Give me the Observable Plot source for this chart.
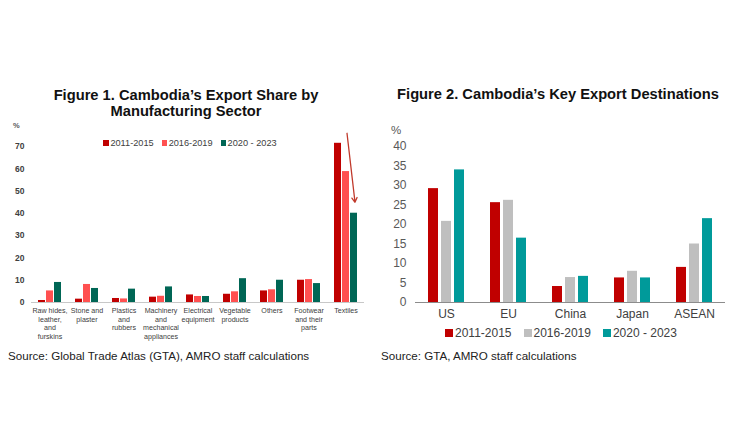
<!DOCTYPE html>
<html>
<head>
<meta charset="utf-8">
<script src="https://cdn.jsdelivr.net/npm/d3@7"></script>
<script src="https://cdn.jsdelivr.net/npm/@observablehq/plot@0.6"></script>
<style>
  html, body { margin: 0; padding: 0; background: #fff; }
  #page { position: relative; width: 750px; height: 440px; overflow: hidden; font-family: "Liberation Sans", Arial, sans-serif; background: #fff; }
  .abs { position: absolute; }
  .title { font-weight: bold; font-size: 14.7px; color: #111; text-align: center; line-height: 16px; white-space: nowrap; }
  .legend { display: flex; align-items: center; white-space: nowrap; color: #404040; }
  .legend .item { display: flex; align-items: center; }
  .legend .sw { display: inline-block; }
  .source { font-size: 11.6px; color: #222; white-space: nowrap; }
  .unit { color: #595959; }
</style>
</head>
<body>
<div id="page">
  <div class="abs title" style="left:0; width:372px; top:87px;">Figure 1. Cambodia’s Export Share by<br>Manufacturing Sector</div>
  <div class="abs title" style="left:375px; width:366px; top:86px;">Figure 2. Cambodia’s Key Export Destinations</div>
  <div class="abs unit" style="left:13px; top:121px; font-size:7.5px; font-weight:bold;">%</div>
  <div class="abs unit" style="left:391px; top:124px; font-size:11.5px;">%</div>
  <div id="chart1" class="abs" style="left:0; top:120px;"></div>
  <div id="chart2" class="abs" style="left:375px; top:120px;"></div>
  <div id="legend1" class="abs legend" style="left:0; width:380px; justify-content:center; top:138px; font-size:9.2px;"></div>
  <div id="legend2" class="abs legend" style="left:375px; width:372px; justify-content:center; top:326px; font-size:12px;"></div>
  <div class="abs source" style="left:8px; top:349px;">Source: Global Trade Atlas (GTA), AMRO staff calculations</div>
  <div class="abs source" style="left:381px; top:349px;">Source: GTA, AMRO staff calculations</div>
</div>
<script>
// ---------- Data ----------
const periods = ["2011-2015", "2016-2019", "2020 - 2023"];

// Figure 1: export share by manufacturing sector (%)
const sectors = [
  "Raw hides,\nleather,\nand\nfurskins",
  "Stone and\nplaster",
  "Plastics\nand\nrubbers",
  "Machinery\nand\nmechanical\nappliances",
  "Electrical\nequipment",
  "Vegetable\nproducts",
  "Others",
  "Footwear\nand their\nparts",
  "Textiles"
];
const sector2011 = [0.9, 1.5, 1.8, 2.4, 3.4, 3.7, 5.2, 10.0, 71.5];
const sector2016 = [5.2, 8.1, 1.6, 2.8, 2.7, 4.8, 5.7, 10.3, 58.8];
const sector2020 = [9.0, 6.3, 6.0, 7.0, 2.7, 10.7, 10.0, 8.5, 40.1];
const ticks1 = [0, 10, 20, 30, 40, 50, 60, 70];
const colors1 = ["#C00000", "#FF5050", "#006655"];

// Annotation arrow on Textiles (from ~76% down to ~45%)
const arrowNote = [{sector: "Textiles", from: "2016-2019", to: "2020 - 2023", y1: 76, y2: 45}];

// Figure 2: key export destinations (%)
const dests = ["US", "EU", "China", "Japan", "ASEAN"];
const dest2011 = [29.2, 25.6, 4.1, 6.3, 9.0];
const dest2016 = [20.8, 26.2, 6.4, 8.0, 15.0];
const dest2020 = [34.0, 16.5, 6.7, 6.3, 21.5];
const ticks2 = [0, 5, 10, 15, 20, 25, 30, 35, 40];
const colors2 = ["#C00000", "#BFBFBF", "#009A9A"];

// ---------- Tables ----------
const seriesSector = [sector2011, sector2016, sector2020];
const rows1 = sectors.flatMap((s, i) => periods.map((p, j) => ({sector: s, period: p, value: seriesSector[j][i]})));
const seriesDest = [dest2011, dest2016, dest2020];
const rows2 = dests.flatMap((d, i) => periods.map((p, j) => ({dest: d, period: p, value: seriesDest[j][i]})));

const font = "'Liberation Sans', Arial, sans-serif";

// ---------- Figure 1 ----------
const chart1 = Plot.plot({
  width: 375,
  height: 225,
  marginLeft: 27,
  marginRight: 7,
  marginTop: 15,
  marginBottom: 43,
  style: {fontFamily: font, background: "transparent"},
  fx: {domain: sectors, padding: 0},
  x: {domain: periods, paddingInner: 0.12, paddingOuter: 0.8, axis: null},
  y: {domain: [0, 75]},
  color: {domain: periods, range: colors1},
  marks: [
    Plot.barY(rows1, {fx: "sector", x: "period", y: "value", fill: "period"}),
    Plot.ruleY([0], {stroke: "#c8c8c8", strokeWidth: 1}),
    Plot.axisY({ticks: ticks1, tickSize: 0, tickPadding: 7, line: true, stroke: "#c8c8c8",
      fontSize: 8.5, fontWeight: "bold", fill: "#404040", label: null}),
    Plot.axisFx({anchor: "bottom", tickSize: 0, tickPadding: 5, fontSize: 7.1, lineHeight: 1.18,
      fill: "#404040", label: null}),
    Plot.arrow(arrowNote, {fx: "sector", x1: "from", x2: "to", y1: "y1", y2: "y2", dx: 1,
      stroke: "#C0392B", strokeWidth: 1.3, headLength: 6})
  ]
});
document.getElementById("chart1").appendChild(chart1);

// ---------- Figure 2 ----------
const chart2 = Plot.plot({
  width: 375,
  height: 202,
  marginLeft: 38,
  marginRight: 23,
  marginTop: 26,
  marginBottom: 20,
  style: {fontFamily: font, background: "transparent"},
  fx: {domain: dests, padding: 0},
  x: {domain: periods, paddingInner: 0.21, paddingOuter: 0.84, axis: null},
  y: {domain: [0, 40]},
  color: {domain: periods, range: colors2},
  marks: [
    Plot.barY(rows2, {fx: "dest", x: "period", y: "value", fill: "period"}),
    Plot.ruleY([0], {stroke: "#8c8c8c", strokeWidth: 1}),
    Plot.axisY({ticks: ticks2, tickSize: 0, tickPadding: 9, line: true, stroke: "#8c8c8c",
      fontSize: 12, fill: "#595959", label: null}),
    Plot.axisFx({anchor: "bottom", tickSize: 0, tickPadding: 7, fontSize: 12,
      fill: "#404040", label: null})
  ]
});
document.getElementById("chart2").appendChild(chart2);

// ---------- Legends ----------
function legend(el, colors, sw, gap, itemGap) {
  const root = document.getElementById(el);
  periods.forEach((p, i) => {
    const item = document.createElement("span");
    item.className = "item";
    item.style.marginRight = i < periods.length - 1 ? itemGap + "px" : "0";
    const s = document.createElement("span");
    s.className = "sw";
    s.style.width = sw + "px";
    s.style.height = sw + "px";
    s.style.background = colors[i];
    s.style.marginRight = gap + "px";
    item.appendChild(s);
    item.appendChild(document.createTextNode(p));
    root.appendChild(item);
  });
}
legend("legend1", colors1, 5.5, 1.5, 8);
legend("legend2", colors2, 8, 2, 12);
</script>
</body>
</html>
